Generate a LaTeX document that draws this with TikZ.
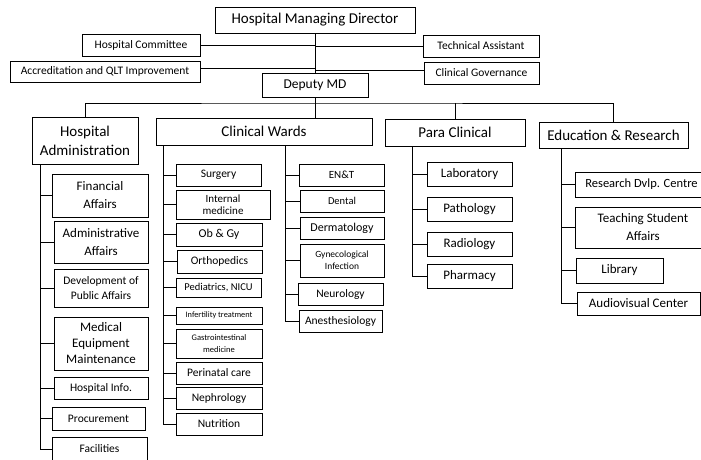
\documentclass[tikz,border=0pt]{standalone}
\usepackage{fontspec}
\setmainfont{Carlito}
\tikzset{
  box/.style={draw=black,line width=0.8pt,inner sep=1pt,align=center,fill=white},
  conn/.style={draw=black,line width=0.7pt},
}
\newcommand{\obox}[8]{%
  \pgfmathsetmacro\obw{#4-#2}\pgfmathsetmacro\obh{#5-#3}%
  \pgfmathsetmacro\obx{(#2+#4)/2}\pgfmathsetmacro\oby{(#3+#5)/2}%
  \node[box,minimum width=\obw pt,minimum height=\obh pt,font=\fontsize{#6}{#7}\selectfont] (#1) at (\obx,\oby) {#8};}
\begin{document}
\begin{tikzpicture}[x=1pt,y=-1pt]
\path[use as bounding box] (0,0) rectangle (701,459);
\clip (0,0) rectangle (701,459);
% top level
\obox{hmd}{215}{7}{415}{33}{15}{18}{Hospital Managing Director}
\obox{hc}{82}{34}{200}{56}{11.5}{13}{Hospital Committee}
\obox{acc}{10}{61}{200}{82}{11.5}{13}{Accreditation and QLT Improvement}
\obox{ta}{423}{35}{539}{57}{11.5}{13}{Technical Assistant}
\obox{cg}{424}{62}{539}{84}{11.5}{13}{Clinical Governance}
\obox{dmd}{262}{73}{368}{97}{13.5}{15}{Deputy MD}
% second level
\obox{ha}{32}{117}{138}{164}{15}{19}{Hospital\\Administration}
\obox{cw}{156}{118}{372}{145}{15}{18}{Clinical Wards}
\obox{pc}{385}{119}{525}{146}{15}{18}{Para Clinical}
\obox{edu}{539}{122}{688}{148}{15}{18}{Education \& Research}
% hospital administration children
\obox{fin}{52}{174}{148}{217}{13}{18}{Financial\\Affairs}
\obox{adm}{54}{221}{148}{263}{13}{18}{Administrative\\Affairs}
\obox{dev}{54}{269}{148}{307}{11.5}{15}{Development of\\Public Affairs}
\obox{med}{54}{317}{148}{370}{13}{16}{Medical\\Equipment\\Maintenance}
\obox{hinfo}{54}{377}{148}{399}{11.5}{13}{Hospital Info.}
\obox{proc}{52}{407}{145}{430}{11.5}{13}{Procurement}
\obox{fac}{52}{437}{147}{461}{11.5}{13}{Facilities}
% clinical wards left column
\obox{sur}{176}{164}{261}{186}{11.5}{13}{Surgery}
\obox{im}{176}{190}{270}{219}{11}{12}{Internal\\medicine}
\obox{ob}{176}{223}{262}{246}{12}{13}{Ob \& Gy}
\obox{orth}{177}{250}{262}{273}{11.5}{13}{Orthopedics}
\obox{ped}{176}{278}{261}{297}{10.5}{12}{Pediatrics, NICU}
\obox{inf}{176}{307}{262}{324}{8.3}{10}{Infertility treatment}
\obox{gas}{176}{329}{262}{358}{8.5}{12}{Gastrointestinal\\medicine}
\obox{peri}{176}{362}{262}{384}{11.5}{13}{Perinatal care}
\obox{neph}{176}{387}{262}{409}{11.5}{13}{Nephrology}
\obox{nut}{176}{413}{262}{435}{11.5}{13}{Nutrition}
% clinical wards right column
\obox{ent}{299}{164}{384}{186}{11}{13}{EN\&T}
\obox{den}{300}{190}{384}{212}{10.5}{13}{Dental}
\obox{derm}{300}{217}{384}{239}{12}{13}{Dermatology}
\obox{gyn}{300}{244}{384}{277}{9.5}{12}{Gynecological\\Infection}
\obox{neur}{298}{283}{383}{305}{11.5}{13}{Neurology}
\obox{anes}{299}{310}{382}{332}{11.5}{13}{Anesthesiology}
% para clinical
\obox{lab}{427}{162}{512}{186}{13}{15}{Laboratory}
\obox{path}{427}{197}{512}{221}{13}{15}{Pathology}
\obox{rad}{427}{232}{512}{256}{13}{15}{Radiology}
\obox{phar}{427}{264}{512}{288}{13}{15}{Pharmacy}
% education
\obox{rdc}{575}{172}{708}{197}{12.5}{15}{Research Dvlp. Centre}
\obox{tsa}{575}{207}{711}{248}{13}{18}{Teaching Student\\Affairs}
\obox{lib}{576}{258}{663}{283}{13}{15}{Library}
\obox{av}{577}{292}{700}{315}{13}{15}{Audiovisual Center}
% connectors top
\coordinate (bus) at (315,103);
\draw[conn] (hmd.south -| bus) -- (dmd.north -| bus);
\draw[conn] (hc.east) -- (hc.east -| bus);
\draw[conn] ([yshift=3pt]acc.east) -- ([yshift=3pt]acc.east -| bus);
\draw[conn] (ta.west) -- (ta.west -| bus);
\draw[conn] ([yshift=3pt]cg.west) -- ([yshift=3pt]cg.west -| bus);
\draw[conn] (dmd.south -| bus) -- (cw.north -| bus);
\draw[conn] (ha.north) |- (bus) -| (edu.north);
\draw[conn] (pc.north) -- (pc.north |- bus);
% spines
\coordinate (haS) at (40,164);
\foreach \c in {fin,adm,dev,med,hinfo,proc,fac} \draw[conn] (haS) |- (\c.west);
\coordinate (cwL) at (163,145);
\foreach \c in {sur,im,ob,orth,ped,inf,gas,peri,neph,nut} \draw[conn] (cwL) |- (\c.west);
\coordinate (cwR) at (285,145);
\foreach \c in {ent,den,derm,gyn,neur,anes} \draw[conn] (cwR) |- (\c.west);
\coordinate (pcS) at (412,146);
\foreach \c in {lab,path,rad,phar} \draw[conn] (pcS) |- (\c.west);
\coordinate (edS) at (561,148);
\foreach \c in {rdc,tsa,lib,av} \draw[conn] (edS) |- (\c.west);
\end{tikzpicture}
\end{document}
